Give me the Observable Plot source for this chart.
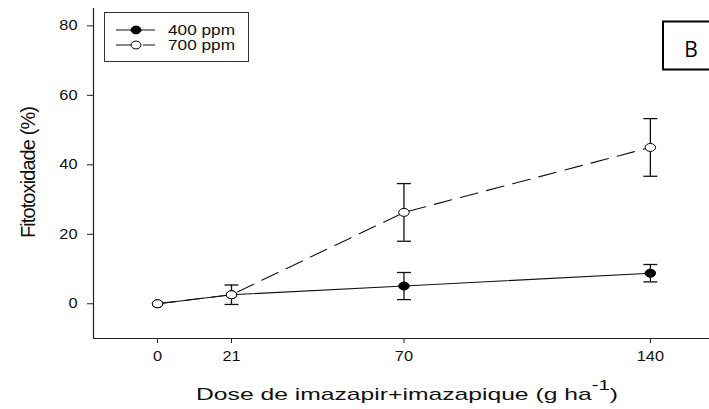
<!DOCTYPE html>
<html>
<head>
<meta charset="utf-8">
<script src="https://cdn.jsdelivr.net/npm/d3@7"></script>
<script src="https://cdn.jsdelivr.net/npm/@observablehq/plot@0.6"></script>
<style>
  html, body { margin: 0; padding: 0; background: #fff; }
  svg { display: block; }
</style>
</head>
<body>
<script>
// ---- data ----
const doses = [0, 21, 70, 140];
const ppm400 = [0, 2.6, 5.1, 8.8];
const err400 = [0, 0, 3.9, 2.5];
const ppm700 = [0, 2.6, 26.3, 45.0];
const err700 = [0, 2.8, 8.3, 8.3];
const xTicks = [0, 21, 70, 140];
const yTicks = [0, 20, 40, 60, 80];
const seriesNames = ["400 ppm", "700 ppm"];
const xLabelMain = "Dose de imazapir+imazapique (g ha";
const xLabelSup = "-1";
const yLabel = "Fitotoxidade (%)";
const panelLetter = "B";

const data400 = doses.map((d, i) => ({dose: d, v: ppm400[i], e: err400[i]}));
const data700 = doses.map((d, i) => ({dose: d, v: ppm700[i], e: err700[i]}));
const errs = [...data400, ...data700].filter(d => d.e > 0);

// slightly wide elliptical marker (reference is horizontally stretched)
const ellipse = {
  draw(ctx, size) {
    const r = Math.sqrt(size / Math.PI);
    const a = r * 1.25, b = r * 0.95, k = 0.5523;
    ctx.moveTo(a, 0);
    ctx.bezierCurveTo(a, k * b, k * a, b, 0, b);
    ctx.bezierCurveTo(-k * a, b, -a, k * b, -a, 0);
    ctx.bezierCurveTo(-a, -k * b, -k * a, -b, 0, -b);
    ctx.bezierCurveTo(k * a, -b, a, -k * b, a, 0);
    ctx.closePath();
  }
};
const cap = {
  draw(ctx) { ctx.moveTo(-7, 0); ctx.lineTo(7, 0); }
};

const xDom = [-18.2, 156.8];
const yDom = [-10, 85];

const chart = Plot.plot({
  width: 709,
  height: 409,
  marginLeft: 93,
  marginRight: 0,
  marginTop: 8,
  marginBottom: 71,
  x: {domain: xDom},
  y: {domain: yDom},
  style: {fontFamily: "'Liberation Sans', Arial, sans-serif", fontSize: "14px", color: "#111", background: "#fff"},
  marks: [
    Plot.ruleY([yDom[0]], {stroke: "#222", strokeWidth: 1.2}),
    Plot.ruleX([xDom[0]], {stroke: "#222", strokeWidth: 1.2}),
    Plot.axisX({ticks: xTicks, tickSize: 5, tickPadding: 8, label: null, fontSize: 14, stroke: "#222"}),
    Plot.axisY({ticks: yTicks, tickSize: 6, tickPadding: 10, label: null, fontSize: 14, stroke: "#222"}),
    Plot.line(data700, {x: "dose", y: "v", stroke: "#111", strokeWidth: 1.1, strokeDasharray: "18,9"}),
    Plot.line(data400, {x: "dose", y: "v", stroke: "#111", strokeWidth: 1.1}),
    Plot.ruleX(errs, {x: "dose", y1: d => d.v - d.e, y2: d => d.v + d.e, stroke: "#111", strokeWidth: 1.3}),
    Plot.dot(errs, {x: "dose", y: d => d.v + d.e, symbol: cap, stroke: "#111", strokeWidth: 1.3, r: 3}),
    Plot.dot(errs, {x: "dose", y: d => d.v - d.e, symbol: cap, stroke: "#111", strokeWidth: 1.3, r: 3}),
    Plot.dot(data400, {x: "dose", y: "v", symbol: ellipse, r: 4.2, fill: "#000", stroke: "#000", strokeWidth: 1}),
    Plot.dot(data700, {x: "dose", y: "v", symbol: ellipse, r: 4.2, fill: "#fff", stroke: "#000", strokeWidth: 1})
  ]
});

document.body.appendChild(chart);
const svg = d3.select(chart);

// stretch tick labels horizontally like the reference
function stretch(sel, f) {
  sel.each(function() {
    const w = this.getComputedTextLength();
    this.setAttribute("textLength", (w * f).toFixed(1));
    this.setAttribute("lengthAdjust", "spacingAndGlyphs");
  });
}
stretch(svg.selectAll('g[aria-label="x-axis tick label"] text'), 1.17);
stretch(svg.selectAll('g[aria-label="y-axis tick label"] text'), 1.17);

// legend
const lg = svg.append("g").attr("font-family", "'Liberation Sans', Arial, sans-serif")
  .attr("font-size", 14).attr("fill", "#111").attr("text-anchor", "start");
lg.append("rect").attr("x", 104.5).attr("y", 12.5).attr("width", 144).attr("height", 49)
  .attr("fill", "#fff").attr("stroke", "#333").attr("stroke-width", 1);
const rows = [
  {y: 30, fill: "#000", dash: null},
  {y: 45, fill: "#fff", dash: "18,9"}
];
rows.forEach((r, i) => {
  lg.append("line").attr("x1", 116).attr("x2", 155).attr("y1", r.y).attr("y2", r.y)
    .attr("stroke", "#111").attr("stroke-width", 1.1).attr("stroke-dasharray", r.dash);
  lg.append("ellipse").attr("cx", 136).attr("cy", r.y).attr("rx", 5).attr("ry", 3.9)
    .attr("fill", r.fill).attr("stroke", "#000").attr("stroke-width", 1);
  lg.append("text").attr("x", 168).attr("y", r.y + 5).attr("text-anchor", "start")
    .attr("textLength", 67).attr("lengthAdjust", "spacingAndGlyphs")
    .text(seriesNames[i]);
});

// panel letter box
svg.append("rect").attr("x", 663).attr("y", 21.5).attr("width", 60).attr("height", 48)
  .attr("fill", "#fff").attr("stroke", "#000").attr("stroke-width", 2);
svg.append("text").attr("x", 691).attr("y", 57).attr("text-anchor", "middle")
  .attr("font-family", "'Open Sans', sans-serif").attr("font-size", 21).attr("fill", "#000")
  .text(panelLetter);

// x-axis title with superscript
const xl = svg.append("text").attr("x", 407).attr("y", 400).attr("text-anchor", "middle")
  .attr("font-family", "'Liberation Sans', Arial, sans-serif").attr("font-size", 17).attr("fill", "#111");
xl.append("tspan").text(xLabelMain);
xl.append("tspan").attr("dy", -10).attr("font-size", 14).text(xLabelSup);
xl.append("tspan").attr("dy", 10).text(")");
xl.attr("textLength", 422).attr("lengthAdjust", "spacingAndGlyphs");

// y-axis title (compressed, overlapping glyphs as in the reference)
svg.append("text").attr("transform", "translate(35,172) rotate(-90)").attr("text-anchor", "middle")
  .attr("font-family", "'Liberation Sans', Arial, sans-serif").attr("font-size", 20).attr("fill", "#111")
  .attr("textLength", 132).attr("lengthAdjust", "spacing")
  .text(yLabel);
</script>
</body>
</html>
